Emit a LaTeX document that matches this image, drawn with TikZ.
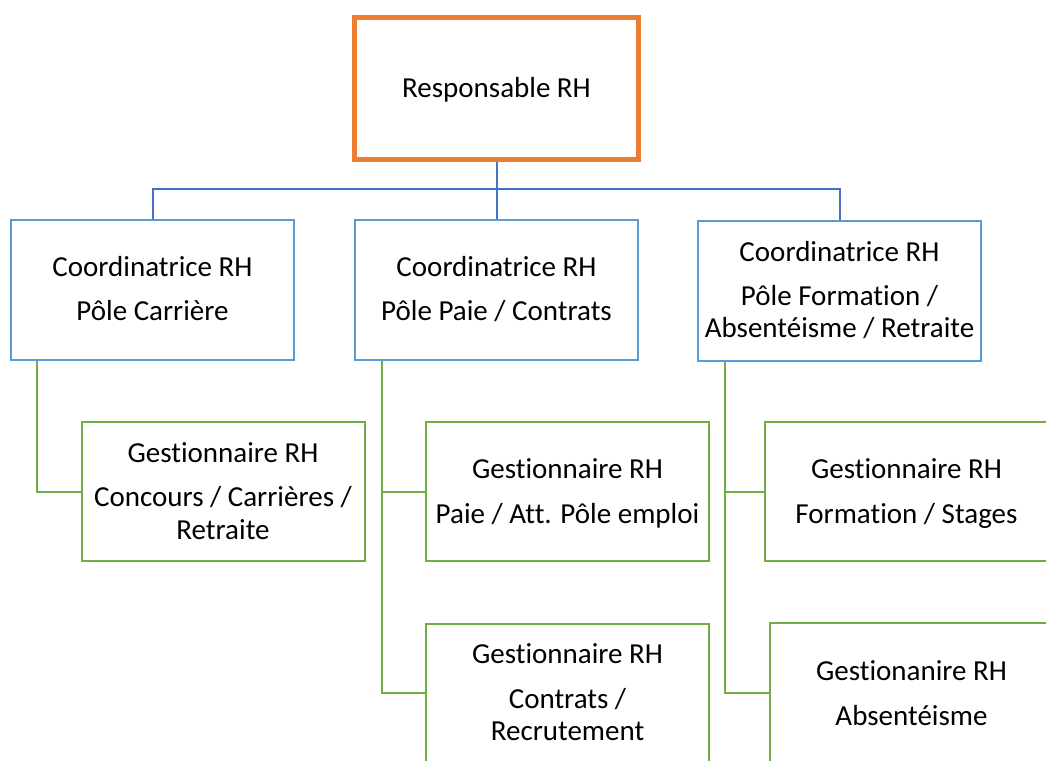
\documentclass[tikz,border=0pt]{standalone}
\usepackage{fontspec}
\setmainfont{Carlito}[Ligatures={NoCommon}]
\definecolor{orangeB}{HTML}{ED7D31}
\definecolor{blueL}{HTML}{4472C4}
\definecolor{blueB}{HTML}{5B9BD5}
\definecolor{greenB}{HTML}{70AD47}
\tikzset{
  topbox/.style={draw=orangeB, line width=5pt, rectangle, inner sep=0pt, minimum width=284pt, minimum height=142pt},
  coordbox/.style={draw=blueB, line width=2pt, rectangle, inner sep=0pt, minimum width=283pt, minimum height=140pt},
  gestbox/.style={draw=greenB, line width=2pt, rectangle, inner sep=0pt, minimum width=283pt, minimum height=139pt},
  bline/.style={draw=blueL, line width=2pt},
  gline/.style={draw=greenB, line width=2pt},
  txt/.style={anchor=base, inner sep=0pt, font=\fontsize{29pt}{33pt}\selectfont, text=black},
}
\begin{document}
\begin{tikzpicture}[x=1pt,y=-1pt]
\useasboundingbox (0,0) rectangle (1046,760);
\clip (0,0) rectangle (1046,760);
\fill[white] (0,0) rectangle (1046,760);

% boxes
\node[topbox] (top) at (496.5,88.5) {};
\node[coordbox] (c1) at (152.5,290) {};
\node[coordbox] (c2) at (496.5,290) {};
\node[coordbox] (c3) at (839.5,290.5) {};
\node[gestbox] (g1) at (223.5,491.5) {};
\node[gestbox] (g2) at (567.5,491.5) {};
\node[gestbox] (g3) at (567.5,693) {};
\node[gestbox] (g4) at (906.5,491.5) {};
\node[gestbox] (g5) at (911.5,692.5) {};

% blue connectors
\coordinate (bus) at (496.5,189);
\draw[bline] (top.south) -- (c2.north);
\draw[bline] (c1.north) |- (bus) -| (c3.north);

% green connectors
\draw[gline] ([xshift=27pt]c1.south west) |- (g1.west);
\draw[gline] ([xshift=28pt]c2.south west) |- (g3.west);
\draw[gline] ([xshift=28pt]c2.south west |- g2.west) -- (g2.west);
\draw[gline] ([xshift=28pt]c3.south west) |- (g5.west);
\draw[gline] ([xshift=28pt]c3.south west |- g4.west) -- (g4.west);

% texts
\node[txt] (t0) at (496.5,97) {Responsable RH};

\node[txt] (t1a) at (152.5,276) {Coordinatrice RH};
\node[txt] (t1b) at (152.5,320) {Pôle Carrière};

\node[txt] (t2a) at (496.5,276) {Coordinatrice RH};
\node[txt] (t2b) at (496.5,320) {Pôle Paie / Contrats};

\node[txt] (t3a) at (839.5,261) {Coordinatrice RH};
\node[txt] (t3b) at (839.5,305) {Pôle Formation /};
\node[txt] (t3c) at (839.5,337) {Absentéisme / Retraite};

\node[txt] (tg1a) at (223,462) {Gestionnaire RH};
\node[txt] (tg1b) at (223,506) {Concours / Carrières /};
\node[txt] (tg1c) at (223,539) {Retraite};

\node[txt] (tg2a) at (567.5,478) {Gestionnaire RH};
\node[txt] (tg2b) at (567.5,523) {Paie / Att. Pôle emploi};

\node[txt] (tg3a) at (567.5,663) {Gestionnaire RH};
\node[txt] (tg3b) at (567.5,708) {Contrats /};
\node[txt] (tg3c) at (567.5,740) {Recrutement};

\node[txt] (tg4a) at (906.5,478) {Gestionnaire RH};
\node[txt] (tg4b) at (906.5,523) {Formation / Stages};

\node[txt] (tg5a) at (911.5,680) {Gestionanire RH};
\node[txt] (tg5b) at (911.5,725) {Absentéisme};
\end{tikzpicture}
\end{document}
